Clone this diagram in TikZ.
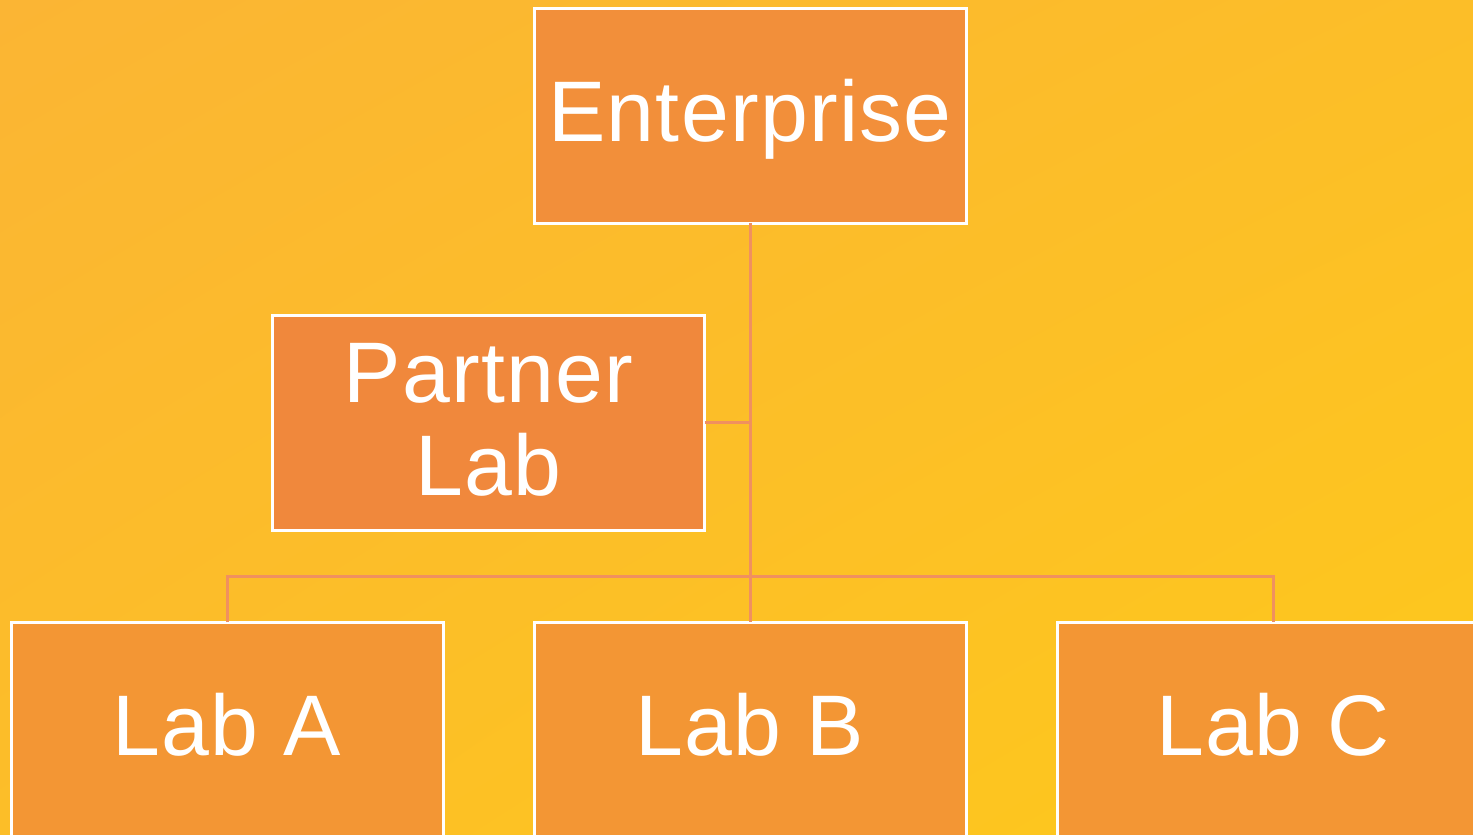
\documentclass[tikz,border=0pt]{standalone}
\usepackage{fontspec}
\setmainfont{Liberation Sans}
\usepackage{tikz}
\usetikzlibrary{positioning,shadings}

\definecolor{bgorange}{HTML}{FBB534}
\definecolor{bgmid}{HTML}{FCBE28}
\definecolor{bgyellow}{HTML}{FEC91B}
\definecolor{entfill}{HTML}{F28F3A}
\definecolor{partfill}{HTML}{F0883C}
\definecolor{labfill}{HTML}{F39634}
\definecolor{linkcol}{HTML}{F0905F}

\begin{document}
\begin{tikzpicture}[x=1pt, y=1pt, node distance=0pt, outer sep=0pt,
    unit/.style={draw=white, line width=3pt, rectangle, minimum width=432pt, minimum height=215pt,
      text=white, align=center, text height=62pt, text depth=10pt,
      font=\fontsize{86}{93}\selectfont\addfontfeature{LetterSpace=1.5}},
    link/.style={draw=linkcol, line width=3pt}]
    \useasboundingbox (0,0) rectangle (1473,-835);
    \clip (0,0) rectangle (1473,-835);
    \shade[upper left=bgorange, upper right=bgmid, lower left=bgmid, lower right=bgyellow] (0,0) rectangle (1473,-835);

    % boxes
    \node [unit, fill=entfill] (ent) at (750,-115.5) {Enterprise};
    \node [unit, fill=partfill, text height=155pt] (partner) at (488.5,-422.5) {Partner\\Lab};
    \node [unit, fill=labfill] (labB) at (750,-729.5) {Lab B};
    \node [unit, fill=labfill, left=91pt of labB] (labA) {Lab A};
    \node [unit, fill=labfill, right=91pt of labB] (labC) {Lab C};

    % connectors
    \draw [link] (ent.south) -- (labB.north);
    \draw [link] (partner.east) -- (partner.east -| ent.south);
    \draw [link] (labA.north) -- ++(0,46) -| (labC.north);
\end{tikzpicture}
\end{document}
